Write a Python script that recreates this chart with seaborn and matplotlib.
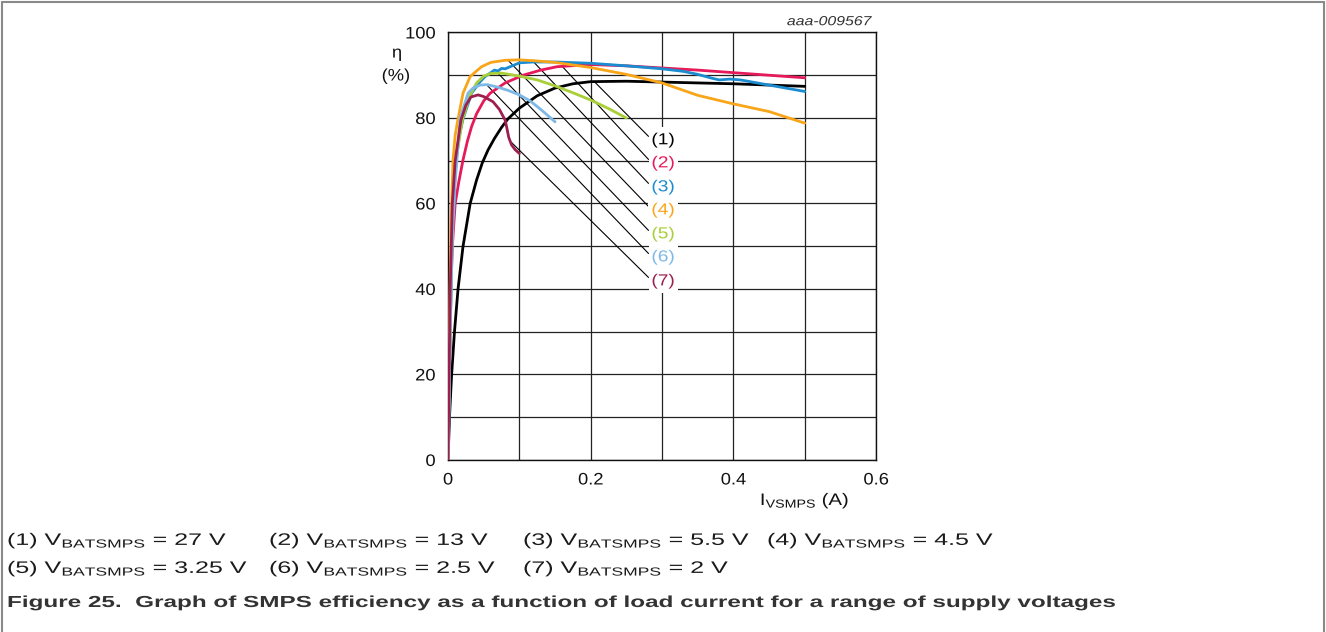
import numpy as np
import pandas as pd
import matplotlib
matplotlib.use('Agg')
import matplotlib.pyplot as plt
from matplotlib.lines import Line2D
from matplotlib.patheffects import AbstractPathEffect
from matplotlib.transforms import Affine2D
import seaborn as sns

# curve data, load current (A) vs efficiency (%)
i_27v = [0, 0.002, 0.005, 0.009, 0.014, 0.021, 0.031, 0.040, 0.048, 0.056, 0.065, 0.075,
         0.084, 0.1, 0.125, 0.15, 0.175, 0.2, 0.25, 0.3, 0.4, 0.5]
eta_27v = [0, 10, 20, 30, 40, 50, 60, 65.5, 69.5, 72.5, 75.2, 77.8,
           79.8, 82.3, 85.2, 87.0, 88.0, 88.5, 88.6, 88.4, 88.0, 87.4]

i_13v = [0, 0.001, 0.002, 0.004, 0.006, 0.01, 0.015, 0.021, 0.027, 0.033, 0.04, 0.05,
         0.059, 0.08, 0.105, 0.13, 0.153, 0.2, 0.25, 0.3, 0.35, 0.4, 0.45, 0.5]
eta_13v = [0, 10, 20, 40, 50, 60, 65, 70.2, 74.5, 78, 81, 84,
           85.8, 88.2, 90, 91.2, 92, 92.5, 92.2, 91.7, 91.2, 90.6, 90.0, 89.4]

i_5v5 = [0, 0.001, 0.003, 0.006, 0.011, 0.016, 0.021, 0.033, 0.045, 0.052, 0.06, 0.065,
         0.07, 0.075, 0.08, 0.09, 0.1, 0.12, 0.15, 0.2, 0.25, 0.3, 0.33, 0.35, 0.37,
         0.38, 0.395, 0.41, 0.45, 0.5]
eta_5v5 = [0, 10, 30, 55, 70.2, 76, 79.8, 85.8, 88.5, 89.7, 90.6, 91.2,
           91.0, 91.6, 91.5, 92.2, 92.9, 93.1, 93.1, 92.8, 92.2, 91.5, 90.9, 90.2, 89.3,
           88.9, 89.1, 88.9, 87.7, 86.2]

i_4v5 = [0, 0.001, 0.002, 0.004, 0.007, 0.01, 0.014, 0.021, 0.031, 0.047, 0.06, 0.08,
         0.1, 0.12, 0.15, 0.2, 0.25, 0.3, 0.35, 0.4, 0.45, 0.5]
eta_4v5 = [0, 15, 30, 55, 70.2, 76, 79.8, 85.8, 89.7, 92, 93, 93.5,
           93.6, 93.4, 93, 91.8, 90.2, 88.2, 85.3, 83.3, 81.5, 78.8]

i_3v25 = [0, 0.001, 0.003, 0.006, 0.011, 0.02, 0.03, 0.04, 0.05, 0.06, 0.075, 0.1,
          0.125, 0.15, 0.175, 0.2, 0.225, 0.25]
eta_3v25 = [0, 10, 30, 55, 70, 79.5, 85, 88.2, 89.8, 90.4, 90.5, 89.8,
            88.9, 87.5, 85.9, 84.2, 82.2, 80.0]

i_2v5 = [0, 0.001, 0.003, 0.006, 0.01, 0.017, 0.028, 0.035, 0.045, 0.055, 0.07, 0.085,
         0.1, 0.115, 0.13, 0.15]
eta_2v5 = [0, 10, 30, 52, 65, 80, 85.8, 87.0, 87.7, 87.8, 87.2, 86.4,
           85.4, 84.0, 82.0, 79.1]

i_2v = [0, 0.001, 0.003, 0.006, 0.01, 0.018, 0.025, 0.032, 0.042, 0.05, 0.063, 0.072,
        0.08, 0.082, 0.085, 0.089, 0.094, 0.1]
eta_2v = [0, 15, 40, 60, 70, 79.5, 83, 84.9, 85.4, 85.0, 83.8, 82.0,
          79.5, 78.0, 75.5, 73.7, 72.6, 71.7]

curve_names = ['(1)', '(2)', '(3)', '(4)', '(5)', '(6)', '(7)']
curve_i = [i_27v, i_13v, i_5v5, i_4v5, i_3v25, i_2v5, i_2v]
curve_eta = [eta_27v, eta_13v, eta_5v5, eta_4v5, eta_3v25, eta_2v5, eta_2v]
curve_colors = ['#000000', '#e6195a', '#1a8ccf', '#f9a51a', '#a8cf38', '#7db8e6', '#9c1f4f']

# leader lines: where each one leaves its curve, and label heights
leader_i = [0.205, 0.16, 0.12, 0.084, 0.07, 0.054, 0.087]
label_eta = [74.9, 69.5, 63.9, 58.5, 52.9, 47.5, 41.9]

legend_volts = ['27 V', '13 V', '5.5 V', '4.5 V', '3.25 V', '2.5 V', '2 V']

caption = ('Figure 25.  Graph of SMPS efficiency as a function of load current '
           'for a range of supply voltages')


class StretchX(AbstractPathEffect):
    # the reference sets its text wide, so widen the glyphs about an anchor
    def __init__(self, sx, anchor='left'):
        super().__init__()
        self.sx = sx
        self.anchor = anchor

    def draw_path(self, renderer, gc, tpath, affine, rgbFace=None):
        box = tpath.get_extents(affine)
        if self.anchor == 'left':
            x0 = affine.transform((0, 0))[0]
        elif self.anchor == 'center':
            x0 = (box.x0 + box.x1) / 2
        else:
            x0 = box.x1
        affine = affine + Affine2D().translate(-x0, 0).scale(self.sx, 1).translate(x0, 0)
        renderer.draw_path(gc, tpath, affine, rgbFace)


sns.set_style('white')
plt.rcParams['font.family'] = ['Liberation Sans', 'DejaVu Sans']
plt.rcParams['mathtext.fontset'] = 'custom'
plt.rcParams['mathtext.rm'] = 'Liberation Sans'
plt.rcParams['mathtext.it'] = 'Liberation Sans:italic'
plt.rcParams['mathtext.bf'] = 'Liberation Sans:bold'

df = pd.concat([pd.DataFrame({'I': x, 'eta': y, 'curve': n})
                for n, x, y in zip(curve_names, curve_i, curve_eta)])

fig = plt.figure(figsize=(13.26, 6.32), dpi=100)
ax = fig.add_axes([0.3379, 0.2722, 0.3228, 0.6764])

ax.set_xlim(0, 0.6)
ax.set_ylim(0, 100)
ax.set_xticks([0, 0.2, 0.4, 0.6])
ax.set_xticklabels(['0', '0.2', '0.4', '0.6'])
ax.set_xticks(np.arange(0, 0.61, 0.1), minor=True)
ax.set_yticks([0, 20, 40, 60, 80, 100])
ax.set_yticks(np.arange(0, 101, 10), minor=True)
ax.grid(True, which='both', color='#222222', lw=0.9, zorder=0)
ax.tick_params(which='both', length=0, labelsize=12, pad=9, colors='#111111')
for s in ax.spines.values():
    s.set_color('#111111')
    s.set_linewidth(1.0)

# leader lines drawn under the curves
for k in range(7):
    x0 = leader_i[k]
    y0 = np.interp(x0, curve_i[k], curve_eta[k])
    ax.plot([x0, 0.281], [y0, label_eta[k] + 0.8], color='black', lw=0.8, zorder=2)

sns.lineplot(data=df, x='I', y='eta', hue='curve', palette=dict(zip(curve_names, curve_colors)),
             estimator=None, sort=False, lw=2.0, legend=False, ax=ax, zorder=3)

for k in range(7):
    ax.text(0.3015, label_eta[k], curve_names[k], color=curve_colors[k], fontsize=11.5,
            ha='center', va='center', zorder=4, path_effects=[StretchX(1.2, 'center')],
            bbox=dict(facecolor='white', edgecolor='none', pad=3.5))

ax.set_xlabel('')
ax.set_ylabel('')
for t in ax.get_xticklabels():
    t.set_path_effects([StretchX(1.1, 'center')])
for t in ax.get_yticklabels():
    t.set_path_effects([StretchX(1.1, 'right')])

ax.text(0.5, -0.095, r'I$_{\mathrm{VSMPS}}$ (A)', transform=ax.get_xaxis_transform(),
        ha='center', va='center', fontsize=12, color='#111111',
        path_effects=[StretchX(1.22, 'center')])
fig.text(397 / 1326, 1 - 53 / 632, 'η', ha='center', va='center', fontsize=12,
         color='#111111', path_effects=[StretchX(1.1, 'center')])
fig.text(396 / 1326, 1 - 76 / 632, '(%)', ha='center', va='center', fontsize=12,
         color='#111111', path_effects=[StretchX(1.1, 'center')])
ax.text(0.99, 1.01, 'aaa-009567', transform=ax.transAxes, ha='right', va='bottom',
        fontsize=9.5, style='italic', color='#333333', path_effects=[StretchX(1.2, 'right')])

# legend rows below the chart
legend_x = [7, 269, 523, 767, 7, 269, 523]
legend_y = [545, 545, 545, 545, 573, 573, 573]
for k in range(7):
    fig.text(legend_x[k] / 1326, 1 - legend_y[k] / 632,
             curve_names[k] + r' V$_{\mathrm{BATSMPS}}$ = ' + legend_volts[k],
             ha='left', va='baseline', fontsize=12, color='#1a1a1a',
             path_effects=[StretchX(1.5)])

fig.text(7 / 1326, 1 - 607 / 632, caption, ha='left', va='baseline', fontsize=11.5,
         fontweight='bold', color='#333333', path_effects=[StretchX(1.52)])

# grey frame round the figure, open at the bottom
frame = dict(color='#8a8a8a', lw=1.5, transform=fig.transFigure)
fig.add_artist(Line2D([2 / 1326, 2 / 1326], [0, 1 - 2 / 632], **frame))
fig.add_artist(Line2D([2 / 1326, 1324 / 1326], [1 - 2 / 632, 1 - 2 / 632], **frame))
fig.add_artist(Line2D([1324 / 1326, 1324 / 1326], [0, 1 - 2 / 632], **frame))

fig.savefig('out.png', dpi=100)
